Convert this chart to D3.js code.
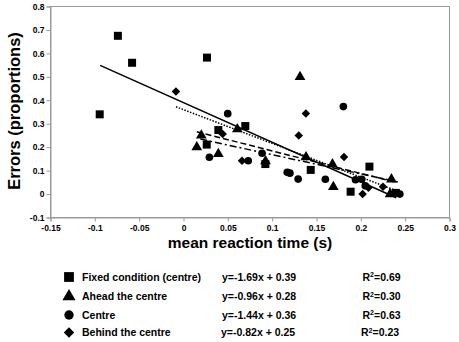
<!DOCTYPE html>
<html><head><meta charset="utf-8">
<script src="https://cdn.jsdelivr.net/npm/d3@7"></script>
<style>body{margin:0;background:#fff}svg{display:block}text{font-family:"Liberation Sans",Arial,sans-serif;font-weight:bold}</style>
</head><body>
<svg id="c" width="459" height="342"></svg>
<script>
// ---- data ----
const seriesNames = ["Fixed condition (centre)", "Ahead the centre", "Centre", "Behind the centre"];
const equations = ["y=-1.69x + 0.39", "y=-0.96x + 0.28", "y=-1.44x + 0.36", "y=-0.82x + 0.25"];
const r2Values = ["0.69", "0.30", "0.63", "0.23"];
const slopes = [-1.69, -0.96, -1.44, -0.82];
const intercepts = [0.39, 0.28, 0.36, 0.25];
const lineFrom = [-0.094, 0.015, -0.0085, 0.019];
const lineTo = [0.24, 0.24, 0.245, 0.245];
const fixedX = [-0.0945, -0.074, -0.058, 0.0265, 0.0393, 0.0262, 0.0697, 0.0923, 0.1435, 0.2097, 0.1885, 0.2395];
const fixedY = [0.34, 0.675, 0.56, 0.582, 0.273, 0.211, 0.29, 0.128, 0.103, 0.117, 0.01, 0.005];
const aheadX = [0.1314, 0.0607, 0.0201, 0.015, 0.0393, 0.0925, 0.1382, 0.168, 0.169, 0.2345, 0.233];
const aheadY = [0.50, 0.277, 0.25, 0.20, 0.171, 0.14, 0.157, 0.127, 0.03, 0.063, 0.0];
const centreX = [0.0499, 0.1803, 0.0292, 0.073, 0.0886, 0.117, 0.12, 0.1293, 0.16, 0.194, 0.201, 0.205, 0.244];
const centreY = [0.343, 0.373, 0.157, 0.142, 0.174, 0.093, 0.089, 0.064, 0.063, 0.061, 0.063, 0.035, 0.0];
const behindX = [-0.0085, 0.0442, 0.13, 0.138, 0.066, 0.181, 0.2085, 0.202, 0.225];
const behindY = [0.437, 0.256, 0.25, 0.344, 0.142, 0.158, 0.027, 0.0, 0.031];
const xTicks = [-0.15, -0.1, -0.05, 0, 0.05, 0.1, 0.15, 0.2, 0.25, 0.3];
const yTicks = [-0.1, 0, 0.1, 0.2, 0.3, 0.4, 0.5, 0.6, 0.7, 0.8];
const xTitle = "mean reaction time (s)";
const yTitle = "Errors (proportions)";

const seriesX = [fixedX, aheadX, centreX, behindX];
const seriesY = [fixedY, aheadY, centreY, behindY];
const symbols = [d3.symbolSquare, d3.symbolTriangle, d3.symbolCircle, d3.symbolSquare];
const symRot = [0, 0, 0, 45];
const symSizes = [64, 50, 46, 36];
const dashes = [null, "6,3", "1.5,1.5", "7,3,2,3"];

const svg = d3.select("#c");
const L = 50.5, R = 449.5, T = 6.5, B = 217.5;
const x = d3.scaleLinear().domain([-0.15, 0.3]).range([L, R]);
const y = d3.scaleLinear().domain([-0.1, 0.8]).range([B, T]);
const grey = "#9a9a9a";

// plot border
svg.append("rect").attr("x", L).attr("y", T).attr("width", R - L).attr("height", B - T)
  .attr("fill", "none").attr("stroke", grey).attr("stroke-width", 1);

const fmt = d => (d === 0 ? "0" : String(+d.toFixed(2)));
const xa = svg.append("g").attr("transform", `translate(0,${B})`)
  .call(d3.axisBottom(x).tickValues(xTicks).tickFormat(fmt).tickSizeOuter(0).tickSize(4).tickPadding(3));
const ya = svg.append("g").attr("transform", `translate(${L},0)`)
  .call(d3.axisLeft(y).tickValues(yTicks).tickFormat(fmt).tickSizeOuter(0).tickSize(4).tickPadding(2));
[xa, ya].forEach(a => {
  a.select(".domain").attr("stroke", grey);
  a.selectAll(".tick line").attr("stroke", grey);
  a.selectAll(".tick text").attr("fill", "#000").style("font-size", "8.5px")
    .style("font-family", "Liberation Sans, Arial, sans-serif").style("font-weight", "bold");
});

// regression lines
seriesNames.forEach((n, i) => {
  svg.append("line")
    .attr("x1", x(lineFrom[i])).attr("y1", y(slopes[i] * lineFrom[i] + intercepts[i]))
    .attr("x2", x(lineTo[i])).attr("y2", y(slopes[i] * lineTo[i] + intercepts[i]))
    .attr("stroke", "#000").attr("stroke-width", 1.5)
    .attr("stroke-dasharray", dashes[i]);
});

// points
seriesNames.forEach((n, i) => {
  const pts = seriesX[i].map((v, j) => [v, seriesY[i][j]]);
  svg.append("g").selectAll("path").data(pts).join("path")
    .attr("transform", d => `translate(${x(d[0])},${y(d[1])}) rotate(${symRot[i]})`)
    .attr("d", d3.symbol().type(symbols[i]).size(symSizes[i]))
    .attr("fill", "#000");
});

// titles
svg.append("text").attr("x", 250).attr("y", 248).attr("text-anchor", "middle")
  .style("font-size", "15.5px").text(xTitle);
svg.append("text").attr("transform", `translate(19.5,111) rotate(-90)`)
  .attr("text-anchor", "middle").style("font-size", "16.5px").text(yTitle);

// legend
const rowsY = [277, 296.5, 315, 332.5];
seriesNames.forEach((n, i) => {
  svg.append("path").attr("transform", `translate(69,${rowsY[i]}) rotate(${symRot[i]})`)
    .attr("d", d3.symbol().type(symbols[i]).size(symSizes[i] * 1.5)).attr("fill", "#000");
  svg.append("text").attr("x", 82).attr("y", rowsY[i] + 3.7).style("font-size", "10.5px").text(n);
  svg.append("text").attr("x", i === 3 ? 221 : 222).attr("y", rowsY[i] + 3.7).style("font-size", "10.5px").text(equations[i]);
  const t = svg.append("text").attr("x", i === 3 ? 361 : 362.5).attr("y", rowsY[i] + 3.7).style("font-size", "10.5px");
  t.append("tspan").text("R");
  t.append("tspan").attr("dy", -3.5).style("font-size", "7px").text("2");
  t.append("tspan").attr("dy", 3.5).text("=" + r2Values[i]);
});
</script>
</body></html>
